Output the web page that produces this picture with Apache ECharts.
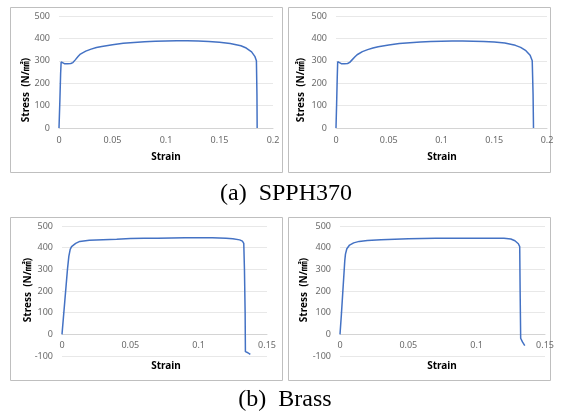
<!DOCTYPE html>
<html>
<head>
<meta charset="utf-8">
<script src="https://cdn.jsdelivr.net/npm/echarts@6/dist/echarts.min.js"></script>
<style>
html,body{margin:0;padding:0;background:#fff;}
#c{width:562px;height:415px;}
</style>
</head>
<body>
<div id="c"></div>
<script>
// SPPH370 specimen 1
var p1Strain = [0, 0.0008, 0.0015, 0.002, 0.003, 0.005, 0.008, 0.011, 0.013, 0.015, 0.018, 0.02, 0.025, 0.03, 0.035, 0.04, 0.05, 0.06, 0.07, 0.08, 0.09, 0.1, 0.11, 0.12, 0.13, 0.14, 0.15, 0.16, 0.17, 0.175, 0.18, 0.183, 0.1845, 0.185, 0.1852];
var p1Stress = [0, 120, 240, 295, 288, 287, 287, 288, 292, 303, 320, 330, 343, 352, 359, 364, 372, 378, 382, 385, 387, 388, 389, 389, 388, 386, 383, 377, 367, 357, 340, 320, 300, 150, 0];
// SPPH370 specimen 2
var p2Strain = [0, 0.0006, 0.0012, 0.0016, 0.0025, 0.005, 0.008, 0.011, 0.013, 0.015, 0.018, 0.02, 0.025, 0.03, 0.035, 0.04, 0.05, 0.06, 0.07, 0.08, 0.09, 0.1, 0.11, 0.12, 0.13, 0.14, 0.15, 0.16, 0.17, 0.175, 0.18, 0.184, 0.186, 0.1868, 0.1872];
var p2Stress = [0, 110, 230, 296, 288, 287, 287, 288, 293, 303, 318, 327, 341, 350, 357, 363, 371, 377, 381, 384, 386, 387, 388, 388, 387, 386, 384, 379, 369, 360, 345, 325, 300, 150, 0];
// Brass specimen 1
var p3Strain = [0, 0.001, 0.002, 0.003, 0.004, 0.005, 0.006, 0.007, 0.008, 0.01, 0.013, 0.02, 0.03, 0.04, 0.05, 0.06, 0.07, 0.08, 0.09, 0.1, 0.11, 0.12, 0.125, 0.13, 0.132, 0.133, 0.1335, 0.134, 0.1342, 0.136, 0.1378];
var p3Stress = [0, 75, 150, 225, 300, 360, 392, 405, 413, 420, 429, 434, 437, 439, 442, 443, 444, 445, 446, 446, 446, 444, 441, 436, 430, 420, 300, 100, -80, -85, -93];
// Brass specimen 2
var p4Strain = [0, 0.001, 0.002, 0.003, 0.0035, 0.004, 0.005, 0.007, 0.01, 0.014, 0.02, 0.03, 0.04, 0.05, 0.06, 0.07, 0.08, 0.09, 0.1, 0.11, 0.12, 0.125, 0.128, 0.1305, 0.1315, 0.1318, 0.1322, 0.1335, 0.1352];
var p4Stress = [0, 90, 190, 290, 340, 370, 395, 412, 422, 429, 433, 436, 439, 441, 442, 443, 444, 444, 444, 444, 443, 440, 432, 418, 405, 200, -18, -35, -52];

var captionA = '(a)  SPPH370';
var captionB = '(b)  Brass';
var yTitle = 'Stress  (N/㎟)';
var xTitle = 'Strain';

function pairs(xs, ys){ var r=[]; for(var i=0;i<xs.length;i++) r.push([xs[i], ys[i]]); return r; }

var FONT = "'Noto Sans', 'Noto Sans CJK KR', sans-serif";
var LBL = {fontSize: 9, color: '#6a6a6a', fontFamily: FONT};

function xAx(idx, max, margin, offset){
  return {
    type: 'value', gridIndex: idx, min: 0, max: max, interval: 0.05,
    position: 'bottom', offset: offset,
    axisLine: {show: true, onZero: false, lineStyle: {color: '#d4d4d4', width: 1}},
    axisTick: {show: false},
    splitLine: {show: false},
    axisLabel: Object.assign({margin: margin, showMaxLabel: true, showMinLabel: true, hideOverlap: false}, LBL)
  };
}
function yAx(idx, min){
  return {
    type: 'value', gridIndex: idx, min: min, max: 500, interval: 100,
    axisLine: {show: false}, axisTick: {show: false},
    splitLine: {show: true, lineStyle: {color: '#e8e8e8', width: 1}},
    axisLabel: Object.assign({margin: 9}, LBL)
  };
}
function ser(idx, xs, ys){
  return {
    type: 'line', xAxisIndex: idx, yAxisIndex: idx, data: pairs(xs, ys),
    showSymbol: false, symbol: 'none', smooth: false,
    lineStyle: {color: '#4472C4', width: 1.5}, silent: true
  };
}
function border(x, y, w, h){
  return {type: 'rect', shape: {x: x+0.5, y: y+0.5, width: w, height: h},
    style: {fill: 'none', stroke: '#bfbfbf', lineWidth: 1}, z: 0};
}
function ytitle(x, y){
  return {type: 'text', x: x, y: y, rotation: Math.PI/2,
    style: {text: yTitle, font: 'bold 10px ' + FONT, fill: '#000', textAlign: 'center', textVerticalAlign: 'middle'}};
}
function xtitle(x, y){
  return {type: 'text', x: x, y: y,
    style: {text: xTitle, font: 'bold 10px ' + FONT, fill: '#000', textAlign: 'center', textVerticalAlign: 'middle'}};
}
function caption(t, x, y){
  return {type: 'text', x: x, y: y,
    style: {text: t, font: "24px 'Liberation Serif', 'Times New Roman', serif", fill: '#000', textAlign: 'center', textVerticalAlign: 'middle'}};
}

// bottom grids: plot height 130 px over 600 units -> zero line sits 130/6 px above the bottom
var bottomZeroOffset = -130 / 6;

var chart = echarts.init(document.getElementById('c'), null, {renderer: 'canvas'});
chart.setOption({
  animation: false,
  backgroundColor: '#fff',
  grid: [
    {left: 59, right: 289, top: 16, bottom: 287},
    {left: 336, right: 15, top: 16, bottom: 287},
    {left: 62, right: 295, top: 226, bottom: 59},
    {left: 340, right: 17, top: 226, bottom: 59}
  ],
  xAxis: [xAx(0, 0.2, 8, 0), xAx(1, 0.2, 8, 0), xAx(2, 0.15, 7, bottomZeroOffset), xAx(3, 0.15, 7, bottomZeroOffset)],
  yAxis: [yAx(0, 0), yAx(1, 0), yAx(2, -100), yAx(3, -100)],
  series: [ser(0, p1Strain, p1Stress), ser(1, p2Strain, p2Stress), ser(2, p3Strain, p3Stress), ser(3, p4Strain, p4Stress)],
  graphic: [
    border(10, 7, 272, 165),
    border(288, 7, 262, 165),
    border(10, 217, 272, 163),
    border(288, 217, 262, 163),
    ytitle(26, 90), ytitle(301, 90), ytitle(28, 290), ytitle(304, 290),
    xtitle(166, 157), xtitle(442, 157), xtitle(166, 366), xtitle(442, 366),
    caption(captionA, 286, 194),
    caption(captionB, 285, 400)
  ]
});
</script>
</body>
</html>
